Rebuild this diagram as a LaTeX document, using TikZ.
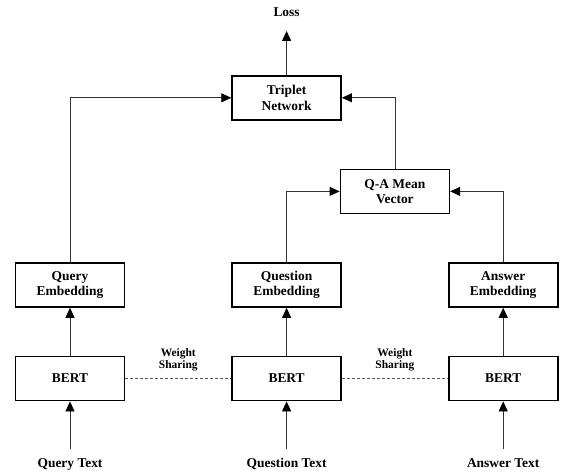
\documentclass[tikz,border=0pt]{standalone}
\usepackage{fontspec}
\setmainfont{Liberation Serif}
\usetikzlibrary{arrows.meta,positioning,calc}
\tikzset{
  block/.style={draw, line width=1.6bp, minimum width=109bp, minimum height=44bp,
                align=center, inner sep=2bp, font=\fontsize{13.5}{15.5}\selectfont\bfseries},
  txt/.style={align=center, inner sep=2bp, font=\fontsize{13.5}{15.5}\selectfont\bfseries},
  wlbl/.style={align=center, inner sep=1bp, text=black, font=\fontsize{11.5}{12.5}\selectfont\bfseries},
  flow/.style={-{Triangle[length=10bp,width=9bp,fill=black,color=black]}, line width=0.8bp, black!80},
  tie/.style={line width=0.8bp, black!65, dash pattern=on 3bp off 2bp}
}

\begin{document}
\begin{tikzpicture}[x=1bp, y=1bp, node distance=48bp and 106bp]
  \useasboundingbox (0,0) rectangle (565,-474);
  % embedding row
  \node[block] (qemb) at (70,-285) {Query\\Embedding};
  \node[block, right=of qemb] (quemb) {Question\\Embedding};
  \node[block, right=of quemb] (aemb) {Answer\\Embedding};
  % shared encoders
  \node[block, below=of qemb] (bert1) {BERT};
  \node[block, below=of quemb] (bert2) {BERT};
  \node[block, below=of aemb] (bert3) {BERT};
  % inputs
  \node[txt, below=55bp of bert1] (qtxt) {Query Text};
  \node[txt, below=55bp of bert2] (qutxt) {Question Text};
  \node[txt, below=55bp of bert3] (atxt) {Answer Text};
  % mean of question and answer, then triplet loss
  \coordinate (qamid) at ($(quemb.north)!0.5!(aemb.north)$);
  \node[block, above=48bp of qamid] (qa) {Q-A Mean\\Vector};
  \coordinate (tmid) at (quemb |- qa.north);
  \node[block, above=48bp of tmid] (trip) {Triplet\\Network};
  \node[txt, above=56bp of trip] (loss) {Loss};
  % connectors
  \draw[flow, shorten <=7bp] (qtxt) -- (bert1);
  \draw[flow, shorten <=7bp] (qutxt) -- (bert2);
  \draw[flow, shorten <=7bp] (atxt) -- (bert3);
  \draw[flow] (bert1) -- (qemb);
  \draw[flow] (bert2) -- (quemb);
  \draw[flow] (bert3) -- (aemb);
  \draw[flow] (quemb) |- (qa);
  \draw[flow] (aemb) |- (qa);
  \draw[flow] (qemb) |- (trip);
  \draw[flow] (qa) |- (trip);
  \draw[flow, shorten >=12bp] (trip) -- (loss);
  \draw[tie] (bert1) -- node[wlbl, above=6bp]{Weight\\Sharing} (bert2);
  \draw[tie] (bert2) -- node[wlbl, above=6bp]{Weight\\Sharing} (bert3);
\end{tikzpicture}
\end{document}
